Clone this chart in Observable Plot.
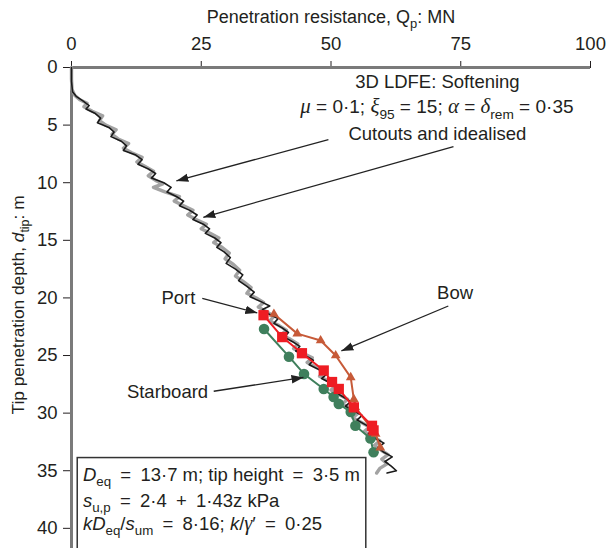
<!DOCTYPE html>
<html><head><meta charset="utf-8">
<script src="https://cdn.jsdelivr.net/npm/d3@7"></script>
<script src="https://cdn.jsdelivr.net/npm/@observablehq/plot@0.6"></script>
<style>body{margin:0;background:#fff}svg{display:block}</style>
</head><body><div id="chart"></div>
<script>
// ---- data ----
const xTicks = [0, 25, 50, 75, 100];
const yTicks = [0, 5, 10, 15, 20, 25, 30, 35, 40];

// [depth m, Qp MN]
const softening = [[0,0],[1.2,0],[2.1,0.2],[2.5,0.9],[2.9,2.2],[3.3,3.4],[3.6,2.8],[4.0,4.6],[4.4,5.6],[4.8,5.0],[5.2,7.2],[5.6,8.2],[6.0,7.6],[6.4,9.6],[6.8,10.6],[7.2,10.0],[7.6,12.4],[8.0,13.6],[8.4,12.8],[8.8,14.8],[9.2,16.2],[9.6,15.4],[10.0,17.8],[10.4,19.2],[10.8,18.4],[11.2,20.2],[11.6,21.6],[12.0,20.8],[12.4,22.8],[12.8,24.2],[13.2,23.4],[13.6,25.4],[14.0,26.6],[14.4,25.8],[14.8,27.6],[15.2,28.8],[15.6,28.0],[16.0,29.4],[16.5,30.6],[17.0,29.8],[17.5,31.6],[18.0,33.0],[18.5,32.2],[19.0,33.8],[19.5,35.2],[19.9,34.4],[20.3,36.4],[20.7,38.2],[21.0,36.8],[21.4,38.0],[21.8,39.8],[22.2,39.0],[22.6,40.6],[23.0,41.8],[23.4,41.0],[23.8,42.6],[24.2,44.0],[24.6,43.2],[25.0,45.0],[25.4,46.6],[25.8,45.8],[26.2,47.6],[26.6,49.2],[27.0,48.2],[27.4,50.0],[27.8,51.6],[28.2,50.8],[28.6,52.4],[29.0,53.8],[29.4,52.8],[29.8,54.4],[30.2,56.0],[30.6,55.0],[31.0,56.6],[31.4,58.2],[31.8,57.2],[32.2,58.6],[32.6,60.2],[33.0,59.0],[33.4,60.2],[33.8,61.8],[34.2,60.4],[34.6,61.6],[35.0,62.6],[35.2,60.8]];
const idealised = [[0,0],[1.0,0],[1.9,0.1],[2.4,0.6],[2.8,1.6],[3.1,3.0],[3.4,2.4],[3.8,4.0],[4.2,6.0],[4.6,5.4],[5.0,6.6],[5.4,8.6],[5.8,7.8],[6.2,9.0],[6.6,11.0],[7.0,10.0],[7.4,11.6],[7.8,13.6],[8.2,12.6],[8.6,14.2],[9.0,15.8],[9.4,14.8],[9.8,16.2],[10.1,17.6],[10.4,15.8],[10.8,18.0],[11.2,20.8],[11.6,19.8],[12.0,21.6],[12.4,23.4],[12.8,22.4],[13.2,24.0],[13.6,26.0],[14.0,25.0],[14.4,26.8],[14.8,28.4],[15.2,27.4],[15.6,29.0],[16.1,30.4],[16.6,29.6],[17.1,31.2],[17.6,32.4],[18.1,31.6],[18.6,33.2],[19.1,34.6],[19.6,33.8],[20.0,35.6],[20.4,37.0],[20.8,36.0],[21.2,37.6],[21.6,39.0],[22.0,38.2],[22.4,40.0],[22.8,41.4],[23.2,40.4],[23.6,42.2],[24.0,43.6],[24.4,42.8],[24.8,44.6],[25.2,46.4],[25.6,45.4],[26.0,47.0],[26.4,48.8],[26.8,47.8],[27.2,49.4],[27.6,51.0],[28.0,50.0],[28.4,51.6],[28.8,53.2],[29.2,52.2],[29.6,53.8],[30.0,55.2],[30.4,54.2],[30.8,55.8],[31.2,57.4],[31.6,56.4],[32.0,58.0],[32.4,59.4],[32.8,58.4],[33.2,59.6],[33.6,61.0],[34.0,59.8],[34.4,60.8],[34.8,59.4],[35.2,58.8]];

// [Qp MN, depth m]
const port = [[37.0,21.5],[40.6,23.4],[44.4,24.8],[48.6,26.3],[50.2,27.3],[51.5,27.9],[54.4,29.5],[57.9,31.1],[58.2,31.5]];
const bow = [[39.0,21.4],[43.5,23.1],[48.0,23.7],[50.9,25.0],[53.8,26.9],[54.4,28.8],[54.7,29.5],[58.6,31.8],[59.5,33.0]];
const starboard = [[37.1,22.7],[41.9,25.1],[44.8,26.6],[48.6,27.9],[50.5,28.6],[51.5,29.2],[53.8,29.9],[54.7,31.1],[57.6,32.2],[58.2,33.4]];

// annotation arrows [x1, y1, x2, y2]
const arrows = [[49.5,6.25,20.2,9.85],[73.6,6.86,25.4,13.0],[25.2,20.05,35.8,21.3],[72.6,20.7,52.0,24.6],[27.4,28.1,44.7,26.9]];
const labels = [
  {t:"3D LDFE: Softening", x:70.5, y:1.28},
  {t:"Cutouts and idealised", x:70.5, y:5.8},
  {t:"Port", x:20.6, y:20.05},
  {t:"Bow", x:73.9, y:19.6},
  {t:"Starboard", x:18.5, y:28.2}
];

const FONT = "'Liberation Sans', Arial, sans-serif";
const SERIF = "'Liberation Serif', 'Times New Roman', serif";
const RED = "#ee1d23", BOW = "#c75a38", GREEN = "#3f7f5c";
const EQ = "\u2002=\u2002", PLUS = "\u2002+\u2002";

const chart = Plot.plot({
  width: 608, height: 548,
  marginLeft: 71, marginRight: 18, marginTop: 67, marginBottom: 0,
  style: {fontFamily: FONT, fontSize: "17px", color: "#231f20", background: "#fff"},
  x: {domain: [0, 100], axis: null},
  y: {domain: [0, 41.75], reverse: true, axis: null},
  marks: [
    Plot.axisX(xTicks, {anchor: "top", tickSize: 7, tickPadding: 11, fontSize: 18.5, label: null}),
    Plot.axisY(yTicks, {anchor: "left", tickSize: 8, tickPadding: 6, fontSize: 18.5, label: null}),
    Plot.ruleY([0], {stroke: "#7a7a7a", strokeWidth: 3}),
    Plot.ruleX([0], {stroke: "#7a7a7a", strokeWidth: 3}),
    Plot.line(idealised, {x: d => d[1], y: d => d[0], stroke: "#a3a3a3", strokeWidth: 3.4}),
    Plot.line(softening, {x: d => d[1], y: d => d[0], stroke: "#1a1a1a", strokeWidth: 1.6}),
    Plot.line(starboard, {x: d => d[0], y: d => d[1], stroke: GREEN, strokeWidth: 2}),
    Plot.dot(starboard, {x: d => d[0], y: d => d[1], symbol: "circle", r: 5.3, fill: GREEN}),
    Plot.line(bow, {x: d => d[0], y: d => d[1], stroke: BOW, strokeWidth: 2}),
    Plot.dot(bow, {x: d => d[0], y: d => d[1], symbol: "triangle", r: 3.6, fill: BOW}),
    Plot.line(port, {x: d => d[0], y: d => d[1], stroke: RED, strokeWidth: 2}),
    Plot.dot(port, {x: d => d[0], y: d => d[1], symbol: "square", r: 5.8, fill: RED}),
    Plot.link(arrows, {x1: d => d[0], y1: d => d[1], x2: d => d[2], y2: d => d[3], stroke: "#222", strokeWidth: 1.3}),
    Plot.text(labels, {x: "x", y: "y", text: "t", fontSize: 18.5, fill: "#231f20"}),
    Plot.rect([{x1: 1.2, x2: 56.8, y1: 33.9, y2: 42.5}], {x1: "x1", x2: "x2", y1: "y1", y2: "y2", fill: "#fff", stroke: "#333", strokeWidth: 1.5})
  ]
});

const svg = d3.select(chart);
const sx = chart.scale("x"), sy = chart.scale("y");

// arrowheads
const defs = svg.append("defs");
defs.append("marker").attr("id", "ah").attr("viewBox", "0 0 10 10").attr("refX", 10).attr("refY", 5)
  .attr("markerWidth", 12).attr("markerHeight", 12).attr("markerUnits", "userSpaceOnUse").attr("orient", "auto")
  .append("path").attr("d", "M0,1.5L10,5L0,8.5Z").attr("fill", "#222");
svg.selectAll("g[aria-label='link'] path").attr("marker-end", "url(#ah)");

function rich(px, py, parts, opts = {}) {
  const size = opts.size || 18.5;
  const t = svg.append("text").attr("x", px).attr("y", py)
    .attr("text-anchor", opts.anchor || "start")
    .attr("font-family", FONT).attr("font-size", size).attr("fill", "#231f20");
  if (opts.rotate) t.attr("transform", `rotate(-90 ${px} ${py})`);
  let shift = 0;
  for (const p of parts) {
    const o = typeof p === "string" ? {t: p} : p;
    const s = t.append("tspan").text(o.t);
    const target = o.sub ? size * 0.28 : 0;
    if (target !== shift) { s.attr("dy", target - shift); shift = target; }
    if (o.sub) s.attr("font-size", size * 0.72);
    if (o.i) s.attr("font-style", "italic");
    if (o.g) s.attr("font-family", SERIF).attr("font-style", "italic").attr("font-size", size * 1.1);
  }
  return t;
}

// axis titles
rich(331, 23, ["Penetration resistance, Q", {t: "p", sub: 1}, ": MN"], {anchor: "middle", size: 18});
rich(24, 305, ["Tip penetration depth, ", {t: "d", i: 1}, {t: "tip", sub: 1}, ": m"], {anchor: "middle", rotate: 1, size: 17.3});

// parameter line
rich(sx.apply(70.5), sy.apply(3.45) + 6.5, [{t: "μ", g: 1}, " = 0·1; ", {t: "ξ", g: 1}, {t: "95", sub: 1}, " = 15; ", {t: "α", g: 1}, " = ", {t: "δ", g: 1}, {t: "rem", sub: 1}, " = 0·35"], {anchor: "middle", size: 19});

// box text
const bx = sx.apply(2.3);
rich(bx, sy.apply(35.9), [{t: "D", i: 1}, {t: "eq", sub: 1}, EQ + "13·7 m; tip height" + EQ + "3·5 m"]);
rich(bx, sy.apply(38.15), [{t: "s", i: 1}, {t: "u,p", sub: 1}, EQ + "2·4" + PLUS + "1·43z kPa"]);
rich(bx, sy.apply(40.2), [{t: "kD", i: 1}, {t: "eq", sub: 1}, "/", {t: "s", i: 1}, {t: "um", sub: 1}, EQ + "8·16; ", {t: "k", i: 1}, "/", {t: "γ", g: 1}, "′" + EQ + "0·25"]);

document.getElementById("chart").appendChild(chart);
</script>
</body></html>
